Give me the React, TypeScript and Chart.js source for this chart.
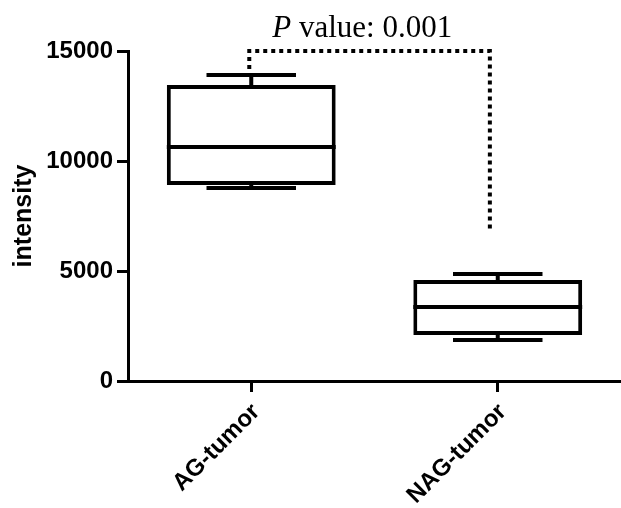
import React, { useEffect, useRef } from "react";
import { Chart, registerables } from "chart.js";

Chart.register(...registerables);

const categories = ["AG-tumor", "NAG-tumor"];
const whiskerMin = [8770, 1860];
const q1Values = [8910, 2090];
const medianValues = [10640, 3360];
const q3Values = [13460, 4590];
const whiskerMax = [13910, 4860];
const yTicks = [0, 5000, 10000, 15000];
const yTitle = "intensity";
const pLabelItalic = "P";
const pLabelRest = " value: 0.001";
// significance bracket: [left start value, top value, right end value]
const bracketValues = [14180, 15000, 6770];

const SANS = "'Liberation Sans', Arial, sans-serif";
const SERIF = "'Liberation Serif', 'Times New Roman', serif";

const boxPlugin = {
  id: "boxExtras",
  afterDatasetsDraw(chart: any) {
    const ctx = chart.ctx;
    const xs = chart.scales.x;
    const ys = chart.scales.y;
    const meta = chart.getDatasetMeta(0);
    ctx.save();
    ctx.strokeStyle = "#000";
    ctx.lineWidth = 4;
    ctx.lineCap = "butt";
    for (let i = 0; i < categories.length; i++) {
      const el: any = meta.data[i];
      const cx = xs.getPixelForValue(i);
      const half = el.width / 2;
      const capHalf = el.width * 0.265;
      const yMed = ys.getPixelForValue(medianValues[i]);
      const yQ1 = ys.getPixelForValue(q1Values[i]);
      const yQ3 = ys.getPixelForValue(q3Values[i]);
      const yMin = ys.getPixelForValue(whiskerMin[i]);
      const yMax = ys.getPixelForValue(whiskerMax[i]);
      ctx.beginPath();
      ctx.moveTo(cx - half, yMed);
      ctx.lineTo(cx + half, yMed);
      ctx.moveTo(cx, yQ3);
      ctx.lineTo(cx, yMax);
      ctx.moveTo(cx, yQ1);
      ctx.lineTo(cx, yMin);
      ctx.moveTo(cx - capHalf, yMax);
      ctx.lineTo(cx + capHalf, yMax);
      ctx.moveTo(cx - capHalf, yMin);
      ctx.lineTo(cx + capHalf, yMin);
      ctx.stroke();
    }
    // dotted bracket
    const xl = xs.getPixelForValue(-0.008);
    const xr = xs.getPixelForValue(0.968);
    const yStart = ys.getPixelForValue(bracketValues[0]);
    const yTop = ys.getPixelForValue(bracketValues[1]);
    const yEnd = ys.getPixelForValue(bracketValues[2]);
    ctx.setLineDash([4, 4]);
    ctx.beginPath();
    ctx.moveTo(xl, yStart);
    ctx.lineTo(xl, yTop);
    ctx.lineTo(xr, yTop);
    ctx.lineTo(xr, yEnd);
    ctx.stroke();
    ctx.setLineDash([]);
    // P value text
    ctx.fillStyle = "#000";
    ctx.textBaseline = "alphabetic";
    ctx.textAlign = "left";
    const italicFont = `italic 31px ${SERIF}`;
    const normalFont = `31px ${SERIF}`;
    ctx.font = italicFont;
    const w1 = ctx.measureText(pLabelItalic).width;
    ctx.font = normalFont;
    const w2 = ctx.measureText(pLabelRest).width;
    const center = xs.getPixelForValue(0.45);
    const start = center - (w1 + w2) / 2;
    const baseY = yTop - 14;
    ctx.font = italicFont;
    ctx.fillText(pLabelItalic, start, baseY);
    ctx.font = normalFont;
    ctx.fillText(pLabelRest, start + w1, baseY);
    ctx.restore();
  },
};

export default function App() {
  const ref = useRef<HTMLCanvasElement | null>(null);
  useEffect(() => {
    if (!ref.current) return;
    const chart = new Chart(ref.current, {
      type: "bar",
      data: {
        labels: categories,
        datasets: [
          {
            data: categories.map((_, i) => [q1Values[i], q3Values[i]]) as any,
            backgroundColor: "#fff",
            borderColor: "#000",
            borderWidth: 4,
            borderSkipped: false,
            categoryPercentage: 1,
            barPercentage: 0.685,
          },
        ],
      },
      options: {
        animation: false,
        responsive: true,
        maintainAspectRatio: false,
        layout: { padding: { top: 51, right: -5, left: 0, bottom: 0 } },
        plugins: { legend: { display: false }, tooltip: { enabled: false } },
        scales: {
          x: {
            type: "category",
            offset: true,
            grid: {
              offset: false,
              drawOnChartArea: false,
              drawTicks: true,
              tickLength: 11,
              tickWidth: 3,
              tickColor: "#000",
            },
            border: { display: true, color: "#000", width: 3 },
            ticks: {
              color: "#000",
              font: { family: SANS, size: 24, weight: "bold" },
              minRotation: 45,
              maxRotation: 45,
              padding: 6,
              labelOffset: 5,
            },
            afterFit(scale: any) {
              scale.height = 127;
            },
          },
          y: {
            min: 0,
            max: 15000,
            afterBuildTicks(scale: any) {
              scale.ticks = yTicks.map((v) => ({ value: v }));
            },
            grid: {
              drawOnChartArea: false,
              drawTicks: true,
              tickLength: 11,
              tickWidth: 3,
              tickColor: "#000",
            },
            border: { display: true, color: "#000", width: 3 },
            ticks: {
              color: "#000",
              font: { family: SANS, size: 24, weight: "bold" },
              padding: 4,
              callback: (v: any) => String(v),
            },
            title: {
              display: true,
              text: yTitle,
              color: "#000",
              font: { family: SANS, size: 25, weight: "bold" },
              padding: { top: 9, bottom: 0 },
            },
            afterFit(scale: any) {
              scale.width = 128;
            },
          },
        },
      },
      plugins: [boxPlugin],
    });
    return () => chart.destroy();
  }, []);
  return (
    <div style={{ position: "fixed", left: 0, top: 0, width: 621, height: 508, background: "#fff" }}>
      <canvas ref={ref} />
    </div>
  );
}
